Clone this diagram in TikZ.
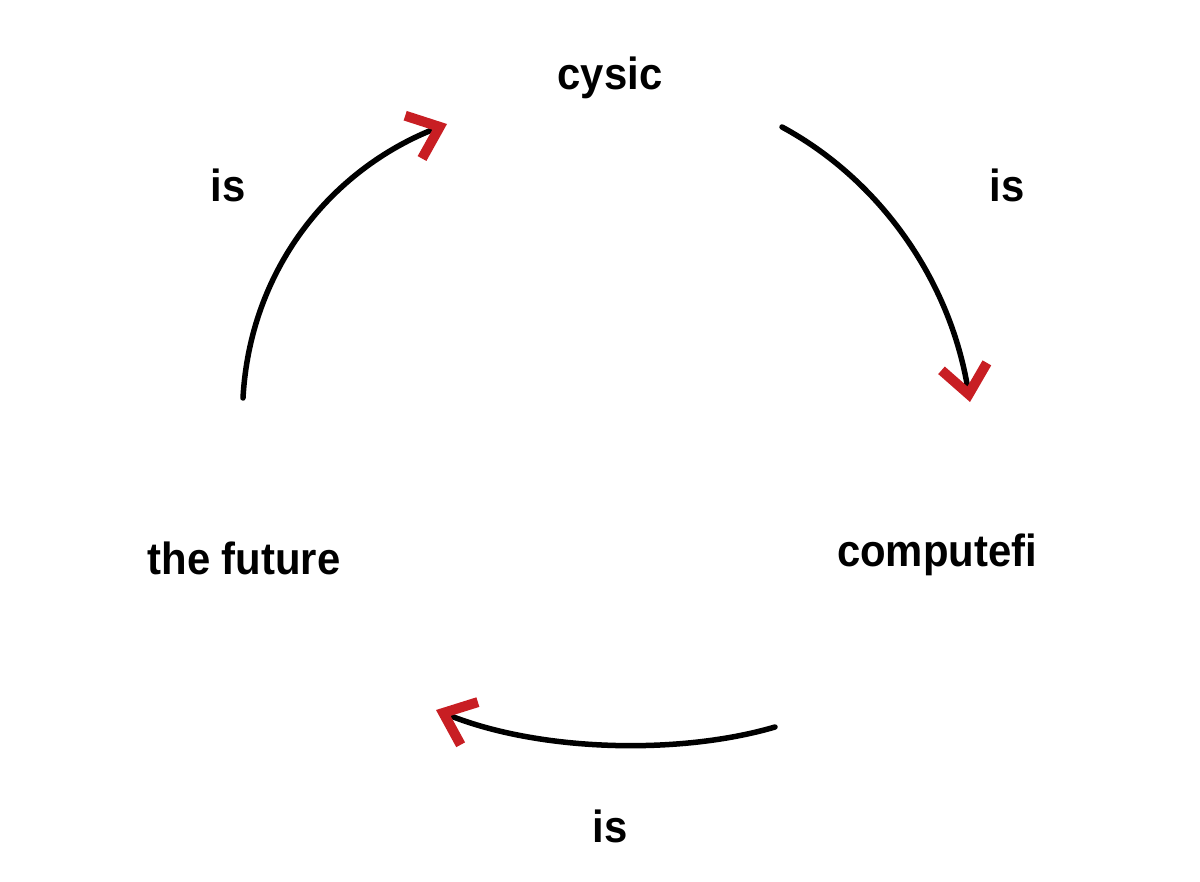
\documentclass[tikz,border=0pt]{standalone}
\usepackage{fontspec}
\setmainfont{Liberation Sans}
\usetikzlibrary{arrows.meta}
\definecolor{tipred}{RGB}{200,30,35}
\tikzset{
  lbl/.style={font=\bfseries\fontsize{45}{50}\selectfont, inner sep=0pt, xscale=0.93},
  cyc/.style={line width=5.5pt, black, line cap=round,
    -{Straight Barb[tipred, length=28pt, width=46pt, line width=10pt]}}
}
\begin{document}
\begin{tikzpicture}[x=1pt,y=-1pt]
\useasboundingbox (0,0) rectangle (1200,882);
\node[lbl] (cysic) at (610,78) {cysic};
\node[lbl] (is1) at (1007,185) {is};
\node[lbl] (comp) at (937,555) {computefi};
\node[lbl] (is2) at (610,826) {is};
\node[lbl] (fut) at (244,558) {the future};
\node[lbl] (is3) at (228,185) {is};
\coordinate (a1) at (782,127); \coordinate (b1) at (970,402);
\coordinate (a2) at (775,727); \coordinate (b2) at (436,710);
\coordinate (a3) at (243,398); \coordinate (b3) at (447,124);
\draw[cyc] (a1) .. controls (880,180) and (950,280) .. (b1);
\draw[cyc] (a2) .. controls (680,755) and (540,752) .. (b2);
\draw[cyc] (a3) .. controls (250,270) and (330,170) .. (b3);
\end{tikzpicture}
\end{document}
